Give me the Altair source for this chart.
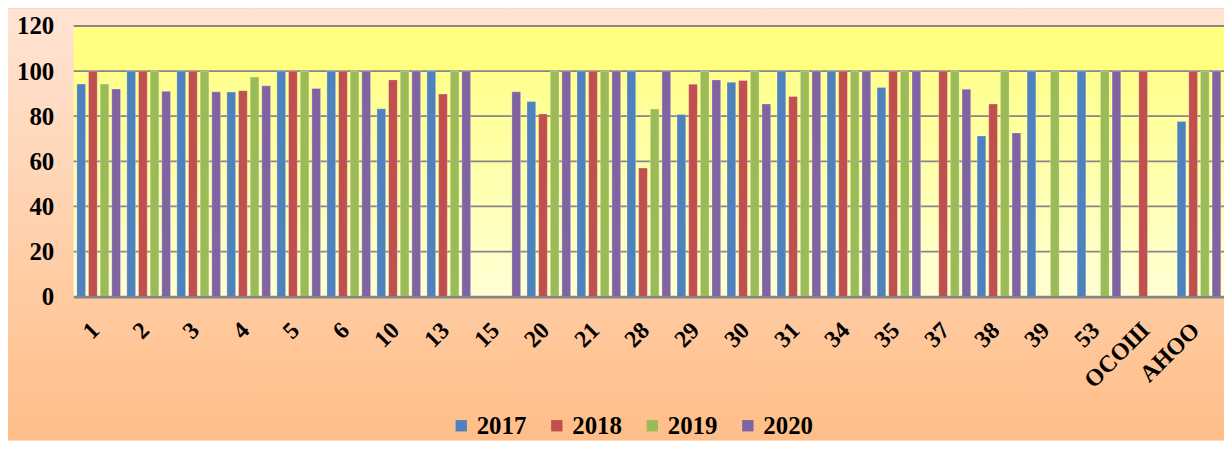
import altair as alt
import pandas as pd

categories = ["1", "2", "3", "4", "5", "6", "10", "13", "15", "20", "21", "28",
              "29", "30", "31", "34", "35", "37", "38", "39", "53", "ОСОШ", "АНОО"]
years = ["2017", "2018", "2019", "2020"]
v2017 = [94.3, 100, 100, 90.7, 100, 100, 83.3, 100, None, 86.5, 100, 100,
         80.8, 95.1, 100, 100, 92.7, None, 71.2, 100, 100, None, 77.6]
v2018 = [100, 100, 100, 91.3, 100, 100, 96.1, 89.8, None, 81.0, 100, 57.0,
         94.2, 95.8, 88.7, 100, 100, 100, 85.4, None, None, 100, 100]
v2019 = [94.3, 100, 100, 97.4, 100, 100, 100, 100, None, 100, 100, 83.2,
         100, 100, 100, 100, 100, 100, 100, 100, 100, None, 100]
v2020 = [92.1, 91.1, 90.8, 93.5, 92.3, 100, 100, 100, 90.8, 100, 100, 100,
         96.1, 85.4, 100, 100, 100, 92.0, 72.6, None, 100, None, 100]
colors = ["#4F81BD", "#C0504D", "#9BBB59", "#8064A2"]
y_ticks = [0, 20, 40, 60, 80, 100, 120]

series = dict(zip(years, [v2017, v2018, v2019, v2020]))
rows = []
for y in years:
    for c, v in zip(categories, series[y]):
        if v is not None:
            rows.append({"cat": c, "year": y, "value": v})
df = pd.DataFrame(rows)

W, H = 1156, 272
FONT = "Liberation Serif"

yscale = alt.Scale(domain=[0, 120], nice=False)
yaxis = alt.Axis(values=y_ticks, grid=False, ticks=False, domain=False,
                 labelPadding=20, labelFont=FONT, labelFontSize=25,
                 labelFontWeight="bold", labelColor="#000000", zindex=1)

# whole-canvas peach gradient background
bg = alt.Chart(pd.DataFrame({"k": [0]})).mark_rect(
    color=alt.LinearGradient(
        gradient="linear", x1=0, x2=0, y1=0, y2=1,
        stops=[alt.GradientStop(offset=0, color="#FFE4D3"),
               alt.GradientStop(offset=1, color="#FFBE88")]
    )
).encode(x=alt.value(-66), x2=alt.value(W), y=alt.value(-17), y2=alt.value(H + 144))

# plot area: gradient 0-100, solid yellow 100-120
lower = alt.Chart(pd.DataFrame({"y0": [0], "y1": [100]})).mark_rect(
    color=alt.LinearGradient(
        gradient="linear", x1=0, x2=0, y1=0, y2=1,
        stops=[alt.GradientStop(offset=0, color="#FFFF8C"),
               alt.GradientStop(offset=1, color="#FFFFD4")]
    )
).encode(x=alt.value(0), x2=alt.value(W),
         y=alt.Y("y1:Q", scale=yscale, axis=yaxis, title=None), y2="y0:Q")

upper = alt.Chart(pd.DataFrame({"y0": [100], "y1": [120]})).mark_rect(
    color="#FFFF80"
).encode(x=alt.value(0), x2=alt.value(W),
         y=alt.Y("y1:Q", scale=yscale, axis=yaxis, title=None), y2="y0:Q")

grid = alt.Chart(pd.DataFrame({"t": y_ticks})).mark_rule(
    color="#868686", strokeWidth=1.8
).encode(x=alt.value(0), x2=alt.value(W),
         y=alt.Y("t:Q", scale=yscale, axis=yaxis, title=None))

bars = alt.Chart(df).mark_bar(stroke="#FFFFFF", strokeOpacity=0.35, strokeWidth=0.8).encode(
    x=alt.X("cat:N", sort=categories, title=None,
            scale=alt.Scale(paddingInner=0.08, paddingOuter=0.04),
            axis=alt.Axis(labelAngle=-45, labelAlign="right", labelBaseline="middle",
                          labelPadding=30, labelOffset=-3, ticks=False, domain=True,
                          domainColor="#868686", domainWidth=2.5,
                          labelFont=FONT, labelFontSize=24, labelFontWeight="bold",
                          labelColor="#000000", zindex=1)),
    xOffset=alt.XOffset("year:N", sort=years,
                        scale=alt.Scale(paddingInner=0.25, paddingOuter=0.1)),
    y=alt.Y("value:Q", scale=yscale, title=None, axis=yaxis),
    color=alt.Color("year:N", sort=years,
                    scale=alt.Scale(domain=years, range=colors),
                    legend=alt.Legend(title=None, orient="none", direction="horizontal",
                                      legendX=377, legendY=389, padding=0,
                                      symbolType="square", symbolSize=130,
                                      symbolStrokeWidth=0, labelOffset=3,
                                      columnPadding=18,
                                      labelFont=FONT, labelFontSize=25,
                                      labelFontWeight="bold", labelColor="#000000",
                                      zindex=1)),
)

chart = alt.layer(bg, lower, upper, grid, bars).resolve_scale(y="shared").properties(
    width=W, height=H,
    autosize=alt.AutoSizeParams(type="none"),
    padding={"left": 66, "top": 17, "right": 0, "bottom": 144},
    background="#FFD9BC",
).configure_view(stroke=None)

chart.save("out.html", embed_options={"renderer": "svg", "actions": False})
